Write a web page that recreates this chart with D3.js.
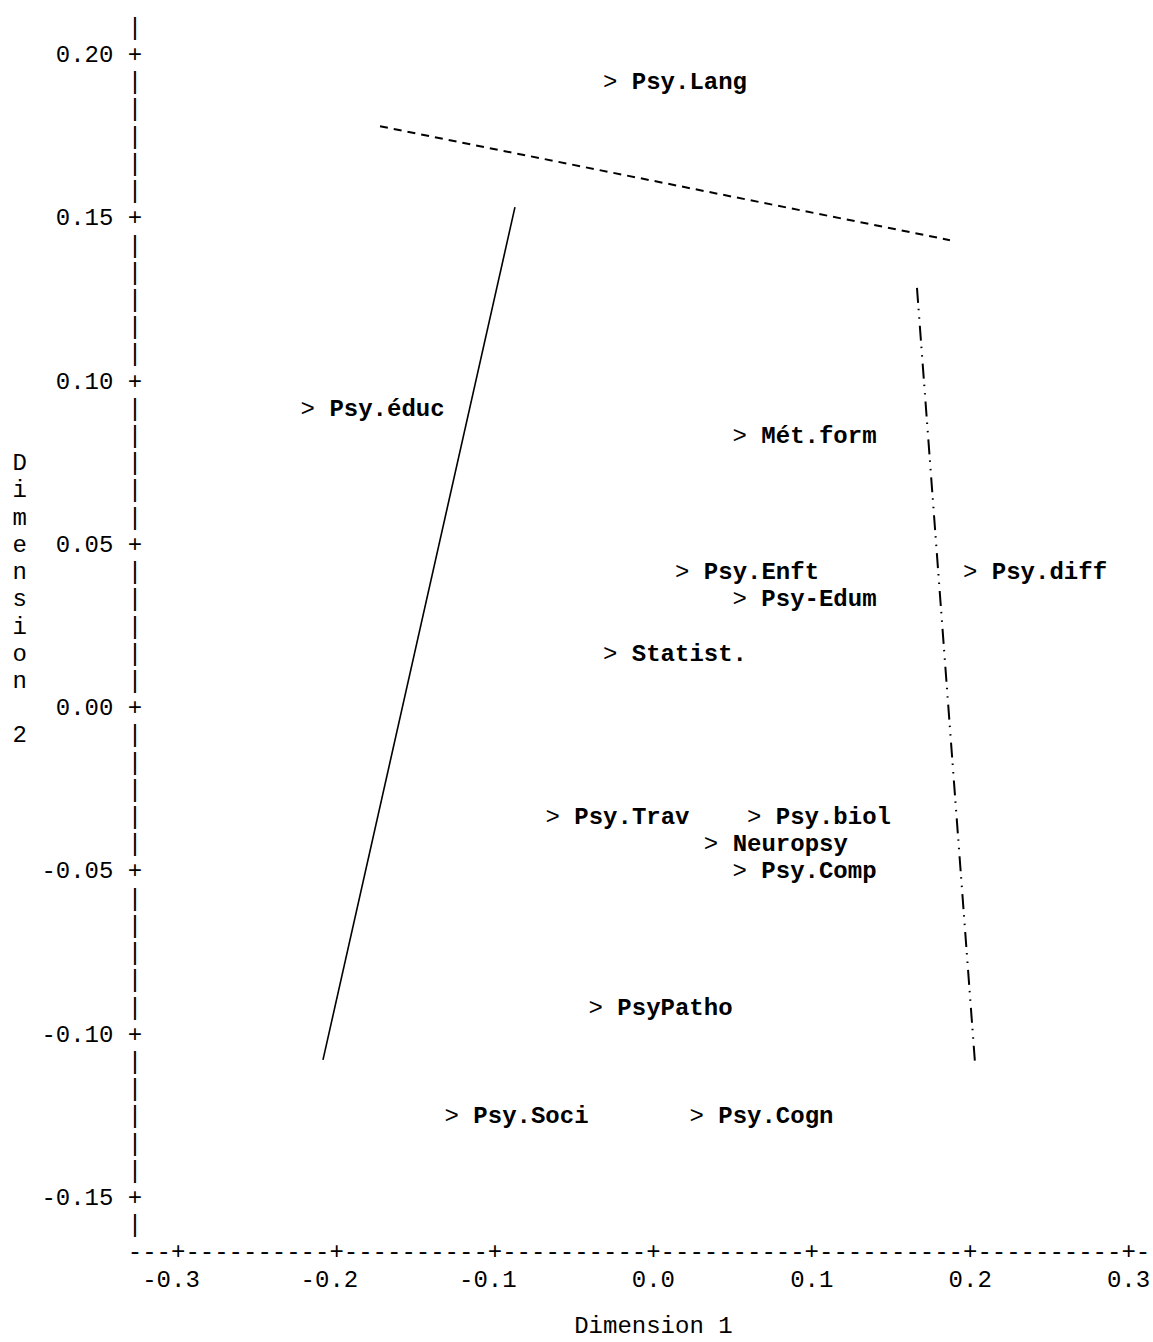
<!DOCTYPE html>
<html>
<head>
<meta charset="utf-8">
<script src="https://cdn.jsdelivr.net/npm/d3@7"></script>
<style>
  html, body { margin: 0; padding: 0; background: #fff; }
  svg { display: block; }
  text { font-family: "Liberation Mono", "Courier New", monospace; font-size: 24px; fill: #000; }
</style>
</head>
<body>
<svg id="chart" width="1153" height="1342"></svg>
<script>
// Tick values and labels
const xTicks = [-0.3, -0.2, -0.1, 0.0, 0.1, 0.2, 0.3];
const xTickLabels = ["-0.3", "-0.2", "-0.1", "0.0", "0.1", "0.2", "0.3"];
const yTicks = [0.20, 0.15, 0.10, 0.05, 0.00, -0.05, -0.10, -0.15];
const yTickLabels = ["0.20", "0.15", "0.10", "0.05", "0.00", "-0.05", "-0.10", "-0.15"];

// Points: category labels with coordinates on the two dimensions
const categories = ["Psy.Lang", "Psy.éduc", "Mét.form", "Psy.Enft", "Psy.diff", "Psy-Edum",
  "Statist.", "Psy.Trav", "Psy.biol", "Neuropsy", "Psy.Comp", "PsyPatho", "Psy.Soci", "Psy.Cogn"];
const dim1 = [-0.0273, -0.2182, 0.0545, 0.0182, 0.2000, 0.0545,
  -0.0273, -0.0636, 0.0636, 0.0364, 0.0545, -0.0364, -0.1273, 0.0273];
const dim2 = [0.1917, 0.0917, 0.0833, 0.0417, 0.0417, 0.0333,
  0.0167, -0.0333, -0.0333, -0.0417, -0.0500, -0.0917, -0.1250, -0.1250];

// Three reference lines (endpoints in data units)
const solidX = [-0.2086, -0.0874];
const solidY = [-0.1077, 0.1534];
const dashedX = [-0.1726, 0.1872];
const dashedY = [0.1782, 0.1433];
const dashDotX = [0.1664, 0.2030];
const dashDotY = [0.1287, -0.1084];

const svg = d3.select("#chart");
svg.append("rect").attr("width", 1153).attr("height", 1342).attr("fill", "#fff");

const x = d3.scaleLinear().domain([-0.3, 0.3]).range([178.2, 1128.6]);
const y = d3.scaleLinear().domain([-0.15, 0.20]).range([1198, 55]);

// Character grid of the line-printer style frame
const colStep = 0.1 / 11;   // one character column
const rowStep = 0.05 / 6;   // one text row
const colPx = x(colStep) - x(0);
const base = 7;             // baseline offset from row centre
const axisX = -0.3 - 3 * colStep;
const rowY = k => 0.20 - k * rowStep;

const frame = svg.append("g");

// Vertical axis built of '|' and '+' characters
d3.range(-1, 44).forEach(k => {
  frame.append("text")
    .attr("x", x(axisX)).attr("y", y(rowY(k)) + base)
    .attr("text-anchor", "middle")
    .text(k >= 0 && k % 6 === 0 ? "+" : "|");
});

// Horizontal axis built of '-' and '+' characters
d3.range(0, 71).forEach(c => {
  frame.append("text")
    .attr("x", x(axisX + c * colStep)).attr("y", y(rowY(44)) + base)
    .attr("text-anchor", "middle")
    .text((c - 3) % 11 === 0 ? "+" : "-");
});

// Y tick labels
yTicks.forEach((v, i) => {
  frame.append("text")
    .attr("x", x(axisX) - 1.5 * colPx).attr("y", y(v) + base)
    .attr("text-anchor", "end")
    .text(yTickLabels[i]);
});

// X tick labels
xTicks.forEach((v, i) => {
  frame.append("text")
    .attr("x", x(v) + 1.5 * colPx).attr("y", y(rowY(45)) + base)
    .attr("text-anchor", "end")
    .text(xTickLabels[i]);
});

// Axis titles
frame.append("text")
  .attr("x", x(0)).attr("y", y(rowY(46.7)) + base)
  .attr("text-anchor", "middle")
  .text("Dimension 1");

Array.from("Dimension 2").forEach((ch, i) => {
  frame.append("text")
    .attr("x", x(axisX - 8 * colStep)).attr("y", y(rowY(15 + i)) + base)
    .attr("text-anchor", "middle")
    .text(ch);
});

// Reference lines
const line = d3.line().x(d => x(d[0])).y(d => y(d[1]));
svg.append("path")
  .attr("d", line(d3.zip(solidX, solidY)))
  .attr("fill", "none").attr("stroke", "#000").attr("stroke-width", 1.6);
svg.append("path")
  .attr("d", line(d3.zip(dashedX, dashedY)))
  .attr("fill", "none").attr("stroke", "#000").attr("stroke-width", 2)
  .attr("stroke-dasharray", "8,6");
svg.append("path")
  .attr("d", line(d3.zip(dashDotX, dashDotY)))
  .attr("fill", "none").attr("stroke", "#000").attr("stroke-width", 2)
  .attr("stroke-dasharray", "15,6,1.5,7,1.5,7");

// Point markers '>' followed by bold labels
const pts = svg.append("g");
categories.forEach((name, i) => {
  const t = pts.append("text")
    .attr("x", x(dim1[i]) - colPx / 2)
    .attr("y", y(dim2[i]) + base);
  t.append("tspan").attr("font-weight", "normal").text("> ");
  t.append("tspan").attr("font-weight", "bold").text(name);
});
</script>
</body>
</html>
